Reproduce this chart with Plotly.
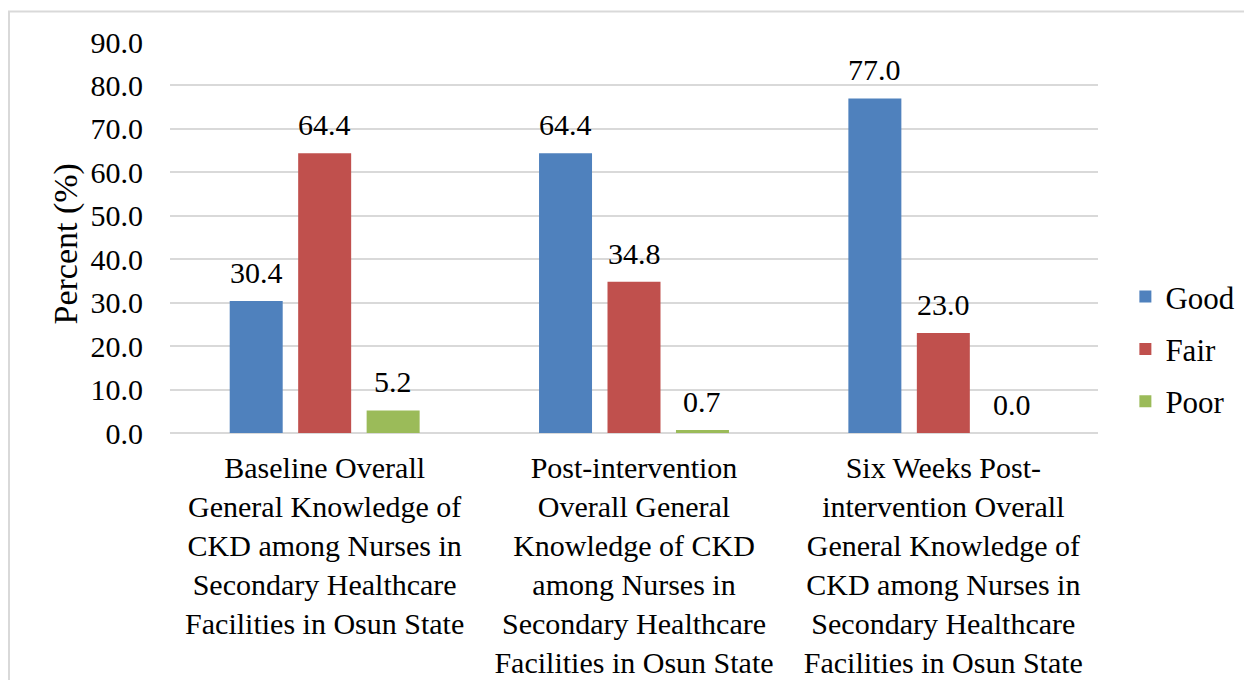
import plotly.graph_objects as go

categories = [
    "Baseline Overall<br>General Knowledge of<br>CKD among Nurses in<br>Secondary Healthcare<br>Facilities in Osun State",
    "Post-intervention<br>Overall General<br>Knowledge of CKD<br>among Nurses in<br>Secondary Healthcare<br>Facilities in Osun State",
    "Six Weeks Post-<br>intervention Overall<br>General Knowledge of<br>CKD among Nurses in<br>Secondary Healthcare<br>Facilities in Osun State",
]
good = [30.4, 64.4, 77.0]
fair = [64.4, 34.8, 23.0]
poor = [5.2, 0.7, 0.0]
series_names = ["Good", "Fair", "Poor"]
colors = ["#4f81bd", "#c0504d", "#9bbb59"]

FONT = "Liberation Serif, Times New Roman, serif"

W, H = 1252, 680
L, T = 162, 34
pw, ph = 928, 391
R = W - L - pw
B = H - T - ph
BARGAP = 0.336
BARGROUPGAP = 0.226
slot = (pw / len(categories)) * (1 - BARGAP) / len(series_names)

fig = go.Figure()
annotations = []
for i, (name, vals, col) in enumerate(zip(series_names, [good, fair, poor], colors)):
    fig.add_trace(go.Bar(
        name=name, x=categories, y=vals, marker_color=col,
        marker_line_width=0, legendgroup=name,
    ))
    for c, v in zip(categories, vals):
        annotations.append(dict(
            x=c, y=v, xref="x", yref="y", text=f"{v:.1f}", showarrow=False,
            xshift=(i - 1) * slot, yshift=10, yanchor="bottom",
            font=dict(family=FONT, size=30, color="black"),
        ))

# y-axis title as paper annotation to match vertical placement
annotations.append(dict(
    x=0, y=0.5, xref="paper", yref="paper", text="Percent (%)", textangle=-90,
    showarrow=False, xanchor="center", yanchor="middle",
    xshift=-(L - 57), yshift=-7,
    font=dict(family=FONT, size=34, color="black"),
))

fig.update_layout(
    width=W, height=H,
    margin=dict(l=L, r=R, t=T, b=B, autoexpand=False),
    paper_bgcolor="white", plot_bgcolor="white",
    barmode="group", bargap=BARGAP, bargroupgap=BARGROUPGAP,
    font=dict(family=FONT, size=30, color="black"),
    showlegend=True,
    legend=dict(x=1.0295, y=0.215, xanchor="left", yanchor="middle",
                font=dict(family=FONT, size=31), itemwidth=30,
                tracegroupgap=9, bgcolor="rgba(0,0,0,0)"),
    xaxis=dict(showgrid=False, showline=False, ticks="", tickfont=dict(size=30),
               tickangle=0, ticklabelstandoff=14, automargin=False),
    yaxis=dict(range=[0, 90], dtick=10, tickformat=".1f", showgrid=True,
               gridcolor="#d9d9d9", gridwidth=1.5, zeroline=True, zerolinecolor="#d9d9d9",
               zerolinewidth=1.5, showline=False, ticks="", ticklen=0,
               tickfont=dict(size=30), ticklabelstandoff=26, automargin=False),
    annotations=annotations,
    shapes=[dict(type="rect", xref="paper", yref="paper",
                 x0=(1 - L) / pw, x1=(1262 - L) / pw,
                 y0=(T + ph - 700) / ph, y1=(T + ph - 3.5) / ph,
                 line=dict(color="#d9d9d9", width=2), fillcolor="rgba(0,0,0,0)", layer="below")],
)

fig.write_html("out.html")
